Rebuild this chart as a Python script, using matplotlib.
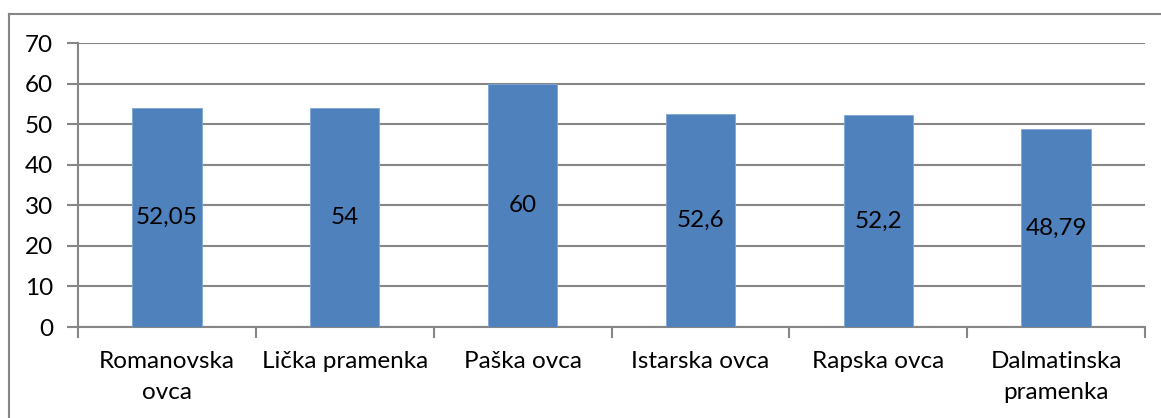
import numpy as np
import matplotlib.pyplot as plt
from matplotlib.lines import Line2D

plt.rcParams['font.family'] = ['Lato', 'DejaVu Sans']

categories = ['Romanovska\novca', 'Lička pramenka', 'Paška ovca',
              'Istarska ovca', 'Rapska ovca', 'Dalmatinska\npramenka']
values = [54, 54, 60, 52.6, 52.2, 48.79]
labels = ['52,05', '54', '60', '52,6', '52,2', '48,79']
yticks = [0, 10, 20, 30, 40, 50, 60, 70]

W, H = 1161, 418
fig = plt.figure(figsize=(W / 100, H / 100), dpi=100)
ax = fig.add_axes([78 / W, 1 - 327 / H, (1145 - 78) / W, (327 - 43) / H])

grey = '#868686'
fs = 17.5
x = np.arange(len(categories))
ax.bar(x, values, width=0.39, color='#4F81BD', edgecolor='#7fa6d6', linewidth=0.6, zorder=3)

for xi, v, lab in zip(x, values, labels):
    ax.text(xi, v / 2, lab, ha='center', va='center', fontsize=17.5, color='black', zorder=4)

ax.set_xlim(-0.5, len(categories) - 0.5)
ax.set_ylim(0, 70)
ax.set_yticks(yticks)
ax.set_yticklabels([str(t) for t in yticks], fontsize=fs)
ax.set_xticks(x)
ax.set_xticklabels(categories, fontsize=fs, linespacing=1.6)
ax.set_xticks(np.arange(-0.5, len(categories)), minor=True)
ax.tick_params(axis='x', which='major', length=0, pad=17)
ax.tick_params(axis='x', which='minor', length=8, color=grey, width=1.5)
ax.tick_params(axis='y', length=8, color=grey, width=1.5, pad=10)

ax.yaxis.grid(True, color=grey, linewidth=1.5, zorder=0)
ax.set_axisbelow(True)
for s in ['top', 'right']:
    ax.spines[s].set_visible(False)
ax.spines['left'].set_color(grey)
ax.spines['left'].set_linewidth(1.5)
ax.spines['bottom'].set_color(grey)
ax.spines['bottom'].set_linewidth(1.5)

# outer chart frame
fig.add_artist(Line2D([9 / W, 9 / W], [0, 1 - 14 / H], color=grey, linewidth=1.5))
fig.add_artist(Line2D([9 / W, 1], [1 - 14 / H, 1 - 14 / H], color=grey, linewidth=1.5))

fig.savefig('out.png', dpi=100)
